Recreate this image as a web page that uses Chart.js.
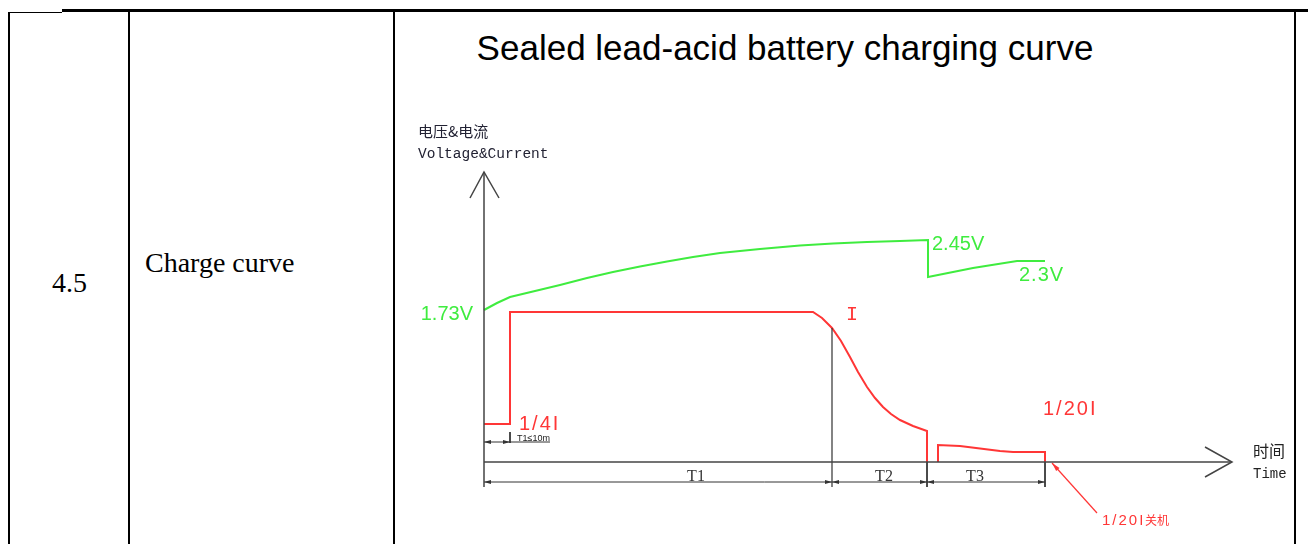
<!DOCTYPE html>
<html lang="en">
<head>
<meta charset="UTF-8">
<title>Charge curve</title>
<script src="https://cdn.jsdelivr.net/npm/chart.js"></script>
<style>
    body {
        margin: 0;
        width: 1308px;
        height: 544px;
        overflow: hidden;
        background: #fff;
        position: relative;
        font-family: "Liberation Serif", "Times New Roman", serif;
    }
    .rule { position: absolute; background: #000; }
    .cell-text { position: absolute; font-size: 28px; line-height: 28px; color: #000; white-space: nowrap; }
    #title {
        position: absolute;
        left: 394px;
        width: 782px;
        top: 28px;
        text-align: center;
        font: 35px/40px "Liberation Sans", Arial, sans-serif;
        color: #000;
        white-space: nowrap;
    }
    #chartBox { position: absolute; left: 394px; top: 13px; width: 900px; height: 531px; }
</style>
</head>
<body>
    <!-- table borders -->
    <div class="rule" style="left:62px;top:9px;width:1246px;height:3px"></div>
    <div class="rule" style="left:8px;top:12px;width:54px;height:1px"></div>
    <div class="rule" style="left:8px;top:12px;width:2px;height:532px"></div>
    <div class="rule" style="left:128px;top:12px;width:2px;height:532px"></div>
    <div class="rule" style="left:393px;top:12px;width:2px;height:532px"></div>
    <div class="rule" style="left:1294px;top:12px;width:2px;height:532px"></div>

    <div class="cell-text" style="left:52px;top:269px">4.5</div>
    <div class="cell-text" style="left:145px;top:249px">Charge curve</div>
    <div id="title">Sealed lead-acid battery charging curve</div>

    <div id="chartBox"><canvas id="curveChart" width="900" height="531"></canvas></div>

<script>
    // voltage curve (green), [time, level]
    const voltagePts = [
        [0, 15.2], [1.3, 15.9], [2.6, 16.5], [5.1, 17.1], [7.6, 17.7],
        [10.3, 18.4], [12.9, 19.0], [15.6, 19.55], [18.3, 20.05], [20.9, 20.5],
        [23.6, 20.9], [27.6, 21.3], [31.6, 21.65], [34.9, 21.85], [38.3, 22.0],
        [41.6, 22.1], [44.4, 22.2],
        [44.4, 18.5], [48.9, 19.4], [53.3, 20.1], [56.1, 20.1]
    ];
    // charging current (red)
    const currentPts = [
        [0, 3.8], [2.6, 3.8], [2.6, 15.0], [32.9, 15.0], [33.8, 14.4],
        [34.8, 13.4], [35.7, 12.1], [36.6, 10.5], [37.4, 9.0], [38.3, 7.5],
        [39.1, 6.4], [39.9, 5.5], [40.7, 4.8], [41.6, 4.2], [42.9, 3.6],
        [44.3, 3.1], [44.3, 0]
    ];
    // float current (red, 1/20I stage)
    const floatPts = [
        [45.4, 0], [45.4, 1.7], [47.6, 1.6], [49.6, 1.35], [51.6, 1.1],
        [52.9, 1.0], [56.1, 1.0], [56.1, 0]
    ];
    // stage boundaries on the time axis and their labels
    const stageEnds = [0, 34.8, 44.3, 56.1];
    const stageNames = ['T1', 'T2', 'T3'];
    const stageLabelAt = [21.2, 40.0, 49.1];
    const preChargeEnd = 2.6;

    const axisTop = 29;
    const axisRight = 74.8;

    const GREEN = '#3fec3f';
    const RED = '#ff3636';
    const AXIS = '#444';
    const DIM = '#333';

    const toXY = pts => pts.map(([x, y]) => ({ x, y }));
    const line = (pts, color, width) => ({
        data: toXY(pts),
        showLine: true,
        borderColor: color,
        borderWidth: width,
        pointRadius: 0,
        clip: false
    });

    const datasets = [
        // axes and arrow heads
        line([[0, axisTop], [0, -2.5]], AXIS, 1.5),
        line([[0, 0], [axisRight, 0]], AXIS, 1.5),
        line([[-1.4, axisTop - 2.6], [0, axisTop], [1.5, axisTop - 2.6]], AXIS, 1.5),
        line([[axisRight - 2.7, 1.5], [axisRight, 0], [axisRight - 2.7, -1.5]], AXIS, 1.5),
        // dimension lines
        line([[stageEnds[0], -2], [stageEnds[3], -2]], DIM, 1),
        line([[0, 2], [6.6, 2]], DIM, 1),
        line([[preChargeEnd, 3.0], [preChargeEnd, 1.9]], DIM, 1),
        line([[stageEnds[1], 13.4], [stageEnds[1], -2.5]], DIM, 1.2),
        line([[stageEnds[2], 0], [stageEnds[2], -2.5]], DIM, 1),
        line([[stageEnds[3], 0], [stageEnds[3], -2.5]], DIM, 1),
        // curves
        line(voltagePts, GREEN, 2),
        line(currentPts, RED, 2),
        line(floatPts, RED, 2),
        // shutdown callout
        line([[56.8, -0.1], [61.3, -5.1]], RED, 1.2)
    ];

    // text labels, anchored in data units
    const labels = [
        { t: '1.73V', x: -1.1, y: 14.2, c: GREEN, f: '20px "Liberation Sans"', a: 'right' },
        { t: '2.45V', x: 44.8, y: 21.2, c: GREEN, f: '20px "Liberation Sans"' },
        { t: '2.3V', x: 53.5, y: 18.1, c: GREEN, f: '20px "Liberation Sans"', s: '1px' },
        { t: 'I', x: 36.2, y: 14.2, c: RED, f: '20px "Liberation Mono"' },
        { t: '1/4I', x: 3.5, y: 3.2, c: RED, f: '20px "Liberation Sans"', s: '2px' },
        { t: '1/20I', x: 55.9, y: 4.7, c: RED, f: '20px "Liberation Sans"', s: '2px' },
        { t: '1/20I', x: 61.8, y: -6.3, c: RED, f: '15px "Liberation Sans"', s: '2px' },
        { t: '关机', x: 66.1, y: -6.3, c: RED, f: '12px "Noto Sans CJK SC"' },
        { t: '时间', x: 76.9, y: 0.5, c: '#222', f: '16px "Noto Sans CJK SC"' },
        { t: 'Time', x: 76.9, y: -1.6, c: '#222', f: '14px "Liberation Mono"' },
        { t: '电压&电流', x: -6.6, y: 32.5, c: '#223', f: '15px "Noto Sans CJK SC"' },
        { t: 'Voltage&Current', x: -6.6, y: 30.4, c: '#223', f: '14.5px "Liberation Mono"' },
        { t: 'T1≤10m', x: 3.3, y: 2.1, c: '#222', f: '9px "Liberation Sans"' }
    ];

    // small filled arrow heads on dimension lines: [x, y, direction]
    const dimArrows = [
        [0, -2, -1], [34.8, -2, 1], [34.8, -2, -1], [44.3, -2, 1],
        [44.3, -2, -1], [56.1, -2, 1], [0, 2, -1], [2.6, 2, 1]
    ];

    const annotate = {
        id: 'annotate',
        afterDatasetsDraw(chart) {
            const { ctx, scales: { x, y } } = chart;
            ctx.save();
            labels.forEach(l => {
                ctx.font = l.f;
                ctx.fillStyle = l.c;
                ctx.letterSpacing = l.s || '0px';
                ctx.textAlign = l.a || 'left';
                ctx.textBaseline = 'alphabetic';
                ctx.fillText(l.t, x.getPixelForValue(l.x), y.getPixelForValue(l.y));
            });
            ctx.letterSpacing = '0px';
            // stage names
            ctx.font = '16px "Liberation Serif"';
            ctx.fillStyle = '#333';
            ctx.textAlign = 'center';
            stageNames.forEach((n, i) => {
                ctx.fillText(n, x.getPixelForValue(stageLabelAt[i]), y.getPixelForValue(-1.85));
            });
            // dimension arrow heads
            ctx.fillStyle = DIM;
            dimArrows.forEach(([ax, ay, d]) => {
                const px = x.getPixelForValue(ax), py = y.getPixelForValue(ay);
                ctx.beginPath();
                ctx.moveTo(px, py);
                ctx.lineTo(px - d * 7, py - 2);
                ctx.lineTo(px - d * 7, py + 2);
                ctx.closePath();
                ctx.fill();
            });
            // callout arrow head
            const tx = x.getPixelForValue(56.8), ty = y.getPixelForValue(-0.1);
            const ang = Math.atan2(y.getPixelForValue(-5.1) - ty, x.getPixelForValue(61.3) - tx);
            ctx.fillStyle = RED;
            ctx.beginPath();
            ctx.moveTo(tx, ty);
            ctx.lineTo(tx + 9 * Math.cos(ang - 0.25), ty + 9 * Math.sin(ang - 0.25));
            ctx.lineTo(tx + 9 * Math.cos(ang + 0.25), ty + 9 * Math.sin(ang + 0.25));
            ctx.closePath();
            ctx.fill();
            ctx.restore();
        }
    };

    new Chart(document.getElementById('curveChart'), {
        type: 'scatter',
        data: { datasets },
        options: {
            responsive: false,
            animation: false,
            devicePixelRatio: 1,
            layout: { padding: { left: 90, right: 60, top: 159, bottom: 2 } },
            scales: {
                x: { type: 'linear', min: 0, max: 75, display: false },
                y: { type: 'linear', min: -8, max: 29, display: false }
            },
            elements: { line: { tension: 0 } },
            plugins: { legend: { display: false }, tooltip: { enabled: false } }
        },
        plugins: [annotate]
    });
</script>
</body>
</html>
